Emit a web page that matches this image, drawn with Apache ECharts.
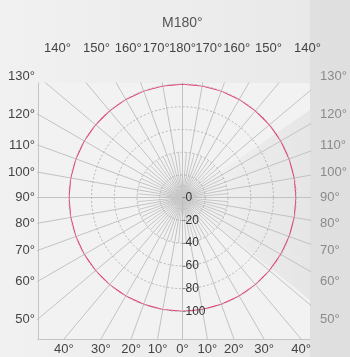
<!DOCTYPE html>
<html><head><meta charset="utf-8">
<script src="https://cdn.jsdelivr.net/npm/echarts@6/dist/echarts.min.js"></script>
<style>html,body{margin:0;padding:0;background:#eee}#c{width:350px;height:357px}</style>
</head><body><div id="c"></div>
<script>
// ---------- data ----------
const titleText = 'M180°';
const curveAngles = [0,10,20,30,40,50,60,70,80,90,100,110,120,130,140,150,160,170,180,190,200,210,220,230,240,250,260,270,280,290,300,310,320,330,340,350,360];
const curveValues = [100,100,100,100,100,100,100,100,100,100,100,100,100,100,100,100,100,100,100,100,100,100,100,100,100,100,100,100,100,100,100,100,100,100,100,100,100];
const radialTicks = [0,20,40,60,80,100];
const mainSpokeAngles = [0,10,20,30,40,50,60,70,80,90,100,110,120,130,140,150,160,170,180,190,200,210,220,230,240,250,260,270,280,290,300,310,320,330,340,350];
const minorSpokeAngles = [5,15,25,35,45,55,65,75,85,95,105,115,125,135,145,155,165,175,185,195,205,215,225,235,245,255,265,275,285,295,305,315,325,335,345,355];
const sideLabelAngles = [130,120,110,100,90,80,70,60,50];
const topLabelAngles = [140,150,160,170,180,170,160,150,140];
const topLabelSides = [-1,-1,-1,-1,0,1,1,1,1];
const bottomLabelAngles = [40,30,20,10,0,10,20,30,40];
const bottomLabelSides = [-1,-1,-1,-1,0,1,1,1,1];

// ---------- layout ----------
const CX = 182.5, CY = 197.7, PX = 1.137;          // centre (px) and px per cd
const GA = {l:38, r:310, t:83, b:339};              // plot frame
const GB = {l:38, r:310, t:40, b:339};              // label frame for side labels
const TOPD = 149, SIDED = 144.5, BOTD = 141.3;      // label reference distances (px)
const FONT = 'Liberation Sans, Arial, sans-serif';
const rad = d => d * Math.PI / 180;

const xMin = (GA.l - CX) / PX, xMax = (GA.r - CX) / PX;
const yMaxA = (CY - GA.t) / PX, yMinA = -(GA.b - CY) / PX;
const yMaxB = (CY - GB.t) / PX, yMinB = -(GB.b - CY) / PX;

function mk(angles, sides, dist, fn) {
  return angles.map((a, i) => ({ v: (sides ? sides[i] : 1) * dist * fn(a) / PX, t: a + '°' }));
}
const bottomL = mk(bottomLabelAngles, bottomLabelSides, BOTD, a => Math.tan(rad(a)));
const topL = mk(topLabelAngles, topLabelSides, TOPD, a => Math.tan(rad(180 - a)));
const sideL = mk(sideLabelAngles, null, SIDED, a => Math.tan(rad(a - 90)));
const fmt = list => v => { let best = list[0]; list.forEach(o => { if (Math.abs(o.v - v) < Math.abs(best.v - v)) best = o; }); return best.t; };

function spokes(angles, len) {
  return angles.map(a => ({ coords: [[0, 0], [len * Math.sin(rad(a)), -len * Math.cos(rad(a))]] }));
}

const chart = echarts.init(document.getElementById('c'), null, {renderer: 'canvas'});
chart.setOption({
  animation: false,
  backgroundColor: {type: 'linear', x: 0, y: 0, x2: 1, y2: 0, colorStops: [{offset: 0, color: '#f1f1f1'}, {offset: 1, color: '#e8e8e8'}]},
  textStyle: {fontFamily: FONT},
  graphic: [
    {type: 'rect', z: -10, shape: {x: GA.l, y: GA.t, width: GA.r - GA.l, height: GA.b - GA.t}, style: {fill: '#f2f2f2'}},
    {type: 'polygon', z: -9, shape: {points: [[CX, CY], [GA.r, 110], [GA.r, 300]]},
     style: {fill: {type: 'linear', x: 0, y: 0, x2: 1, y2: 0, colorStops: [{offset: 0, color: 'rgba(0,0,0,0)'}, {offset: 1, color: 'rgba(0,0,0,0.05)'}]}}},
    {type: 'polygon', z: -9, shape: {points: [[GA.r, 0], [350, 0], [350, 357], [GA.r, 357]]}, style: {fill: 'rgba(0,0,0,0.035)'}}
  ],
  title: {text: titleText, left: 157, top: 11, textStyle: {fontSize: 14, color: '#555', fontWeight: 'normal', fontFamily: FONT}},
  grid: [
    {left: GA.l, top: GA.t, width: GA.r - GA.l, height: GA.b - GA.t},
    {left: GB.l, top: GB.t, width: GB.r - GB.l, height: GB.b - GB.t}
  ],
  xAxis: [
    {gridIndex: 0, type: 'value', min: xMin, max: xMax, position: 'bottom',
     axisLine: {show: true, onZero: false, lineStyle: {color: '#c4c4c4'}}, axisTick: {show: false}, splitLine: {show: false},
     axisLabel: {customValues: bottomL.map(o => o.v), formatter: fmt(bottomL), color: '#444', fontSize: 13, margin: 4, fontFamily: FONT}},
    {gridIndex: 0, type: 'value', min: xMin, max: xMax, position: 'top',
     axisLine: {show: false}, axisTick: {show: false}, splitLine: {show: false},
     axisLabel: {customValues: topL.map(o => o.v), formatter: fmt(topL), color: '#444', fontSize: 13, margin: 28, fontFamily: FONT}},
    {gridIndex: 1, type: 'value', min: xMin, max: xMax, show: false}
  ],
  yAxis: [
    {gridIndex: 0, type: 'value', min: yMinA, max: yMaxA,
     axisLine: {show: true, onZero: false, lineStyle: {color: '#c4c4c4'}}, axisTick: {show: false}, splitLine: {show: false}, axisLabel: {show: false}},
    {gridIndex: 1, type: 'value', min: yMinB, max: yMaxB, position: 'left',
     axisLine: {show: false}, axisTick: {show: false}, splitLine: {show: false},
     axisLabel: {customValues: sideL.map(o => o.v), formatter: fmt(sideL), color: '#444', fontSize: 13, margin: 3, fontFamily: FONT}},
    {gridIndex: 1, type: 'value', min: yMinB, max: yMaxB, position: 'right',
     axisLine: {show: false}, axisTick: {show: false}, splitLine: {show: false},
     axisLabel: {customValues: sideL.map(o => o.v), formatter: fmt(sideL), color: '#8a8a8a', fontSize: 13, margin: 11, fontFamily: FONT}}
  ],
  polar: {center: [CX, CY], radius: 100 * PX},
  angleAxis: {type: 'value', min: 0, max: 360, startAngle: 270, clockwise: true,
    axisLine: {show: false}, axisTick: {show: false}, axisLabel: {show: false}, splitLine: {show: false}},
  radiusAxis: {type: 'value', z: 10, min: radialTicks[0], max: radialTicks[radialTicks.length - 1], interval: radialTicks[1] - radialTicks[0],
    axisLine: {show: true, lineStyle: {color: '#bbb'}}, axisTick: {show: true, length: 3, lineStyle: {color: '#888'}},
    axisLabel: {showMinLabel: true, color: '#333', fontSize: 12, margin: 3, fontFamily: FONT},
    splitLine: {show: true, lineStyle: {color: '#b4b4b4', type: [2, 2], width: 1}}},
  series: [
    {type: 'lines', coordinateSystem: 'cartesian2d', xAxisIndex: 0, yAxisIndex: 0, clip: true, silent: true,
     lineStyle: {color: '#c2c2c2', width: 1, opacity: 1}, data: spokes(mainSpokeAngles, 400)},
    {type: 'lines', coordinateSystem: 'cartesian2d', xAxisIndex: 0, yAxisIndex: 0, clip: true, silent: true,
     lineStyle: {color: '#c8c8c8', width: 1, opacity: 1}, data: spokes(minorSpokeAngles, 40)},
    {type: 'line', coordinateSystem: 'polar', symbol: 'none', smooth: false, silent: true,
     lineStyle: {color: '#e8336d', width: 1.5}, z: 5,
     data: curveAngles.map((a, i) => [curveValues[i], a])}
  ]
});
</script></body></html>
